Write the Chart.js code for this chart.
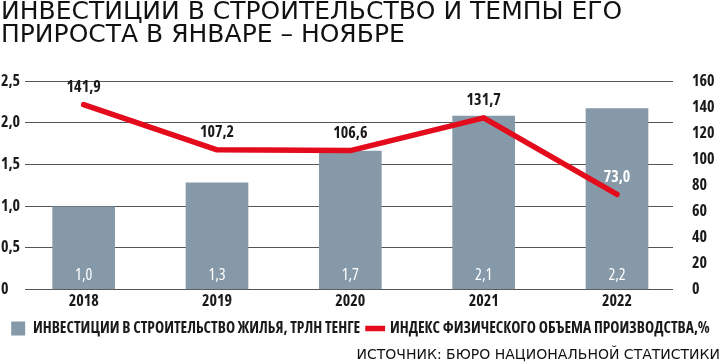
<!DOCTYPE html>
<html>
<head>
<meta charset="utf-8">
<script src="https://cdn.jsdelivr.net/npm/chart.js@4"></script>
<style>
  html, body { margin: 0; padding: 0; background: #fff; }
  #wrap { width: 720px; height: 364px; }
</style>
</head>
<body>
<div id="wrap"><canvas id="chart" width="720" height="364"></canvas></div>
<script>
// Data
var years = ["2018", "2019", "2020", "2021", "2022"];
var investments = [0.99, 1.28, 1.66, 2.08, 2.17]; // трлн тенге
var growthIndex = [141.9, 107.2, 106.6, 131.7, 73.0]; // %

var NARROW = "'Open Sans', 'Roboto Condensed', sans-serif";
var WIDE = "'DejaVu Sans', sans-serif";
var BAR_COLOR = "#8599a8";
var RED = "#e30b1c";
var INK = "#1a1a1a";

function fmt(v) {
  return v.toFixed(1).replace(".", ",");
}

// simple value labels, no datalabels plugin available offline
var valueLabels = {
  id: "valueLabels",
  afterDatasetsDraw: function (chart) {
    var ctx = chart.ctx;
    var barMeta = chart.getDatasetMeta(0);
    var lineMeta = chart.getDatasetMeta(1);
    var bottom = chart.scales.y.bottom;
    ctx.save();
    ctx.textAlign = "center";
    ctx.textBaseline = "middle";

    ctx.font = "condensed 16px " + NARROW;
    ctx.fillStyle = "#ffffff";
    barMeta.data.forEach(function (bar, i) {
      ctx.fillText(fmt(investments[i]), bar.x, bottom - 14);
    });

    ctx.font = "bold condensed 16px " + NARROW;
    lineMeta.data.forEach(function (pt, i) {
      var y = pt.y - 17;
      var bar = barMeta.data[i];
      ctx.fillStyle = (y - 8 > bar.y) ? "#ffffff" : INK;
      ctx.fillText(fmt(growthIndex[i]), pt.x, y);
    });
    ctx.restore();
  }
};

var tickFont = { family: NARROW, size: 16, weight: "bold condensed" };

var ctx = document.getElementById("chart").getContext("2d");

new Chart(ctx, {
  data: {
    datasets: [
      {
        type: "bar",
        label: "ИНВЕСТИЦИИ В СТРОИТЕЛЬСТВО ЖИЛЬЯ, ТРЛН ТЕНГЕ",
        data: years.map(function (y, i) { return { x: i, y: investments[i] }; }),
        yAxisID: "y",
        backgroundColor: BAR_COLOR,
        barThickness: 62,
        pointStyle: "rect",
        order: 2
      },
      {
        type: "line",
        label: "ИНДЕКС ФИЗИЧЕСКОГО ОБЪЕМА ПРОИЗВОДСТВА,%",
        data: years.map(function (y, i) { return { x: i, y: growthIndex[i] }; }),
        yAxisID: "y1",
        borderColor: RED,
        backgroundColor: RED,
        borderWidth: 5.5,
        borderCapStyle: "round",
        borderJoinStyle: "round",
        pointRadius: 0,
        pointStyle: "line",
        tension: 0,
        order: 1
      }
    ]
  },
  options: {
    responsive: false,
    animation: false,
    layout: { padding: { left: 1, right: 0, top: 1, bottom: 0 } },
    plugins: {
      tooltip: { enabled: false },
      title: {
        display: true,
        align: "start",
        text: ["ИНВЕСТИЦИИ В СТРОИТЕЛЬСТВО И ТЕМПЫ ЕГО", "ПРИРОСТА В ЯНВАРЕ – НОЯБРЕ"],
        color: "#111",
        font: { family: WIDE, size: 25, weight: "normal", lineHeight: 0.92 },
        padding: { top: 0, bottom: 34 }
      },
      subtitle: {
        display: true,
        position: "bottom",
        align: "end",
        text: "ИСТОЧНИК: БЮРО НАЦИОНАЛЬНОЙ СТАТИСТИКИ",
        color: "#111",
        font: { family: WIDE, size: 14, weight: "normal" },
        padding: { top: 1, bottom: 0 }
      },
      legend: {
        position: "bottom",
        align: "center",
        labels: {
          usePointStyle: true,
          boxWidth: 14,
          boxHeight: 14,
          padding: 8,
          color: INK,
          font: { family: NARROW, size: 15.5, weight: "bold condensed" },
          sort: function (a, b) { return a.datasetIndex - b.datasetIndex; }
        }
      }
    },
    scales: {
      x: {
        type: "linear",
        offset: false,
        min: -0.44,
        max: 4.42,
        grid: { display: false, drawTicks: false },
        border: { display: false },
        ticks: {
          stepSize: 1,
          autoSkip: false,
          includeBounds: false,
          padding: 2,
          color: INK,
          font: tickFont,
          callback: function (v) { return years[v] !== undefined ? years[v] : ""; }
        }
      },
      y: {
        position: "left",
        min: 0,
        max: 2.5,
        grid: { color: "#555555", lineWidth: 1, drawTicks: false },
        border: { display: false },
        afterFit: function (scale) { scale.width = 24; },
        ticks: {
          stepSize: 0.5,
          padding: 5,
          crossAlign: "far",
          color: INK,
          font: tickFont,
          callback: function (v) { return v === 0 ? "0" : fmt(v); }
        }
      },
      y1: {
        position: "right",
        min: 0,
        max: 160,
        grid: { display: false, drawTicks: false },
        border: { display: false },
        afterFit: function (scale) { scale.width = 47; },
        ticks: {
          stepSize: 20,
          autoSkip: false,
          padding: 19,
          color: INK,
          font: tickFont
        }
      }
    }
  },
  plugins: [valueLabels]
});
</script>
</body>
</html>
